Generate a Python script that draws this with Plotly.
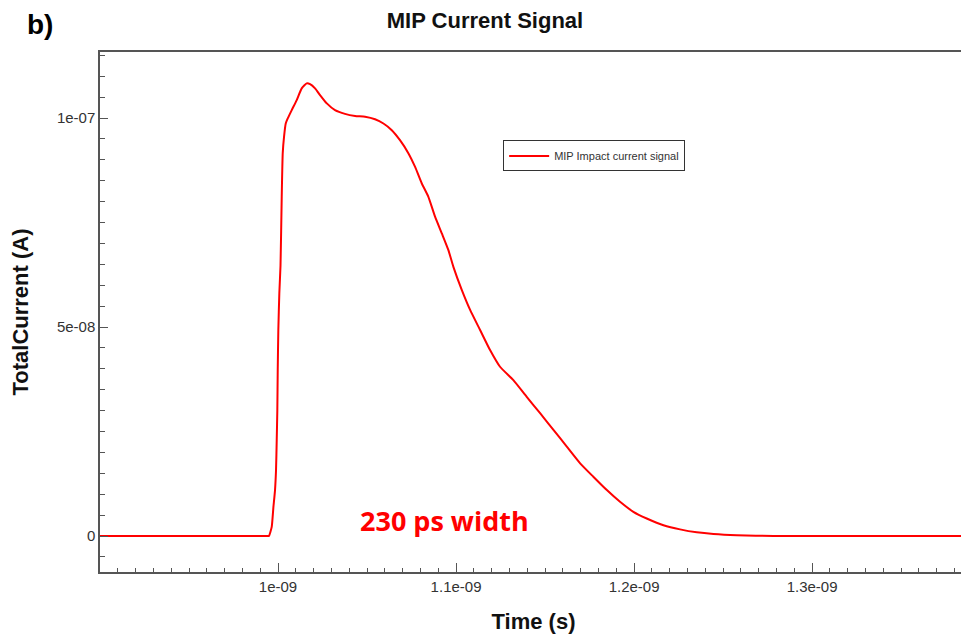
import plotly.graph_objects as go

# Time in ns, current in units of 1e-8 A
time_ns = [0.9000, 0.9944, 0.9949, 0.99646, 0.99736, 0.99831, 0.99888, 0.99927, 0.99961,
           0.99983, 1.00017, 1.00073, 1.0014, 1.00208, 1.00264, 1.00337, 1.00433, 1.00545,
           1.0077, 1.0105, 1.0133, 1.0161, 1.0180, 1.0208, 1.0236, 1.0274, 1.0320, 1.0376,
           1.0433, 1.0489, 1.0545, 1.0592, 1.0639, 1.0685, 1.0732, 1.0770, 1.0807, 1.0844,
           1.0882, 1.0920, 1.0957, 1.0985, 1.1032, 1.1079, 1.1135, 1.1191, 1.1247, 1.1322,
           1.1397, 1.1472, 1.1547, 1.1622, 1.1697, 1.1771, 1.1847, 1.1921, 1.1996, 1.2071,
           1.2165, 1.2258, 1.2352, 1.2446, 1.2577, 1.2783, 1.3382, 1.3870]
current_e8 = [0, 0, 0, 0.22, 0.67, 1.10, 1.58, 2.30, 3.01,
              3.97, 4.93, 5.81, 6.48, 8.12, 9.16, 9.55, 9.87, 9.99,
              10.19, 10.43, 10.71, 10.83, 10.81, 10.71, 10.55, 10.35, 10.19, 10.10,
              10.05, 10.03, 9.97, 9.87, 9.71, 9.47, 9.16, 8.83, 8.44, 8.12,
              7.64, 7.24, 6.84, 6.44, 5.89, 5.41, 4.93, 4.45, 4.05, 3.73,
              3.33, 2.94, 2.54, 2.14, 1.74, 1.42, 1.10, 0.82, 0.58, 0.42,
              0.26, 0.16, 0.09, 0.05, 0.02, 0.00, 0, 0]

x_tick_vals = [1.0e-9, 1.1e-9, 1.2e-9, 1.3e-9]
x_tick_text = ["1e-09", "1.1e-09", "1.2e-09", "1.3e-09"]
y_tick_vals = [0, 5e-8, 1e-7]
y_tick_text = ["0", "5e-08", "1e-07"]

series_name = "MIP Impact current signal"
chart_title = "MIP Current Signal"
note_text = "230 ps width"
panel_label = "b)"

time_s = [t * 1e-9 for t in time_ns]
current_a = [c * 1e-8 for c in current_e8]

fig = go.Figure()
fig.add_trace(go.Scatter(x=time_s, y=current_a, mode="lines", name=series_name,
                         line=dict(color="#ff0000", width=2, shape="spline", smoothing=0.5)))

axis_col = "#555555"
base_font = "Liberation Sans, Arial, sans-serif"
tick_font = dict(family=base_font, size=15, color="#333333")

# the page adds an 8px body margin, so the figure is sized 8px smaller
W, H = 961, 627
fig.update_layout(
    width=W, height=H,
    margin=dict(l=92, r=2, t=44, b=63),
    paper_bgcolor="white", plot_bgcolor="white",
    title=dict(text="<b>" + chart_title + "</b>", x=477 / W, xref="container", xanchor="center",
               y=1 - 12 / H, yref="container", yanchor="middle",
               font=dict(family=base_font, size=22, color="#111111")),
    showlegend=True,
    legend=dict(x=0.465, y=0.83, xanchor="left", yanchor="top", itemwidth=40,
                bordercolor="#333333", borderwidth=1, bgcolor="white",
                font=dict(family=base_font, size=11, color="#333333")),
    xaxis=dict(
        range=[0.9e-9, 1.387e-9],
        tickmode="array", tickvals=x_tick_vals, ticktext=x_tick_text,
        ticks="inside", ticklen=9, tickcolor=axis_col, tickwidth=1,
        minor=dict(ticks="inside", ticklen=4, tickcolor=axis_col, tick0=0.9e-9, dtick=0.01e-9),
        showline=True, linecolor=axis_col, linewidth=1.5, mirror=True,
        showgrid=False, zeroline=False, tickfont=tick_font, automargin=False,
        title=dict(text="<b>Time (s)</b>", standoff=20,
                   font=dict(family=base_font, size=22, color="#111111")),
    ),
    yaxis=dict(
        range=[-0.86e-8, 11.58e-8],
        tickmode="array", tickvals=y_tick_vals, ticktext=y_tick_text,
        ticks="inside", ticklen=8, tickcolor=axis_col, tickwidth=1,
        minor=dict(ticks="inside", ticklen=5, tickcolor=axis_col, tick0=0, dtick=0.5e-8),
        showline=True, linecolor=axis_col, linewidth=1.5, mirror=True,
        showgrid=False, zeroline=False, tickfont=tick_font, automargin=False,
        title=dict(text="<b>TotalCurrent (A)</b>", standoff=27,
                   font=dict(family=base_font, size=22, color="#111111")),
    ),
)

fig.add_annotation(x=1.0935e-9, y=0.37e-8, xref="x", yref="y", text="<b>" + note_text + "</b>",
                   showarrow=False, xanchor="center", yanchor="middle",
                   font=dict(family="Open Sans, sans-serif", size=27, color="#ff0000"))
fig.add_annotation(x=(40 - 100) / 867, y=(572 - 25) / 520, xref="paper", yref="paper",
                   text="<b>" + panel_label + "</b>",
                   showarrow=False, xanchor="center", yanchor="middle",
                   font=dict(family=base_font, size=28, color="#000000"))

fig.write_html("out.html")
